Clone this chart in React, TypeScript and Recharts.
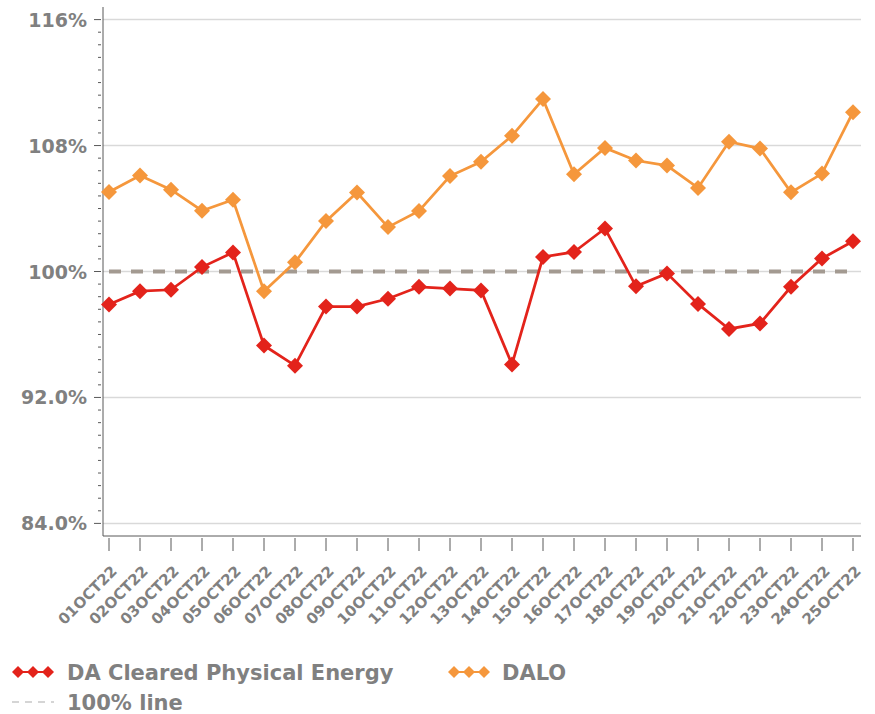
import { CartesianGrid, Line, LineChart, ReferenceLine, XAxis, YAxis } from 'recharts'

// Oct 2022 daily ratios (%)
const DAYS = [
  '01OCT22', '02OCT22', '03OCT22', '04OCT22', '05OCT22', '06OCT22', '07OCT22', '08OCT22', '09OCT22',
  '10OCT22', '11OCT22', '12OCT22', '13OCT22', '14OCT22', '15OCT22', '16OCT22', '17OCT22', '18OCT22',
  '19OCT22', '20OCT22', '21OCT22', '22OCT22', '23OCT22', '24OCT22', '25OCT22',
]
const DA_CLEARED = [
  97.9, 98.75, 98.84, 100.28, 101.21, 95.3, 94.02, 97.77, 97.77, 98.27, 99.03, 98.92, 98.8,
  94.1, 100.92, 101.24, 102.73, 99.06, 99.88, 97.94, 96.35, 96.7, 99.03, 100.83, 101.92,
]
const DALO = [
  105.05, 106.1, 105.2, 103.86, 104.56, 98.75, 100.58, 103.2, 105.02, 102.82, 103.85, 106.06, 106.97,
  108.62, 110.95, 106.18, 107.85, 107.05, 106.73, 105.31, 108.24, 107.81, 105.03, 106.22, 110.12,
]
const LINE_100 = [
  100, 100, 100, 100, 100, 100, 100, 100, 100, 100, 100, 100, 100,
  100, 100, 100, 100, 100, 100, 100, 100, 100, 100, 100, 100,
]
const Y_MAJOR = [84, 92, 100, 108, 116]
const Y_LABELS = ['84.0%', '92.0%', '100%', '108%', '116%']

const RED = '#e3231b'
const ORANGE = '#f5973c'
const DASH = '#a39a91'
const TEXT = '#808080'
const FONT = '"DejaVu Sans", Verdana, sans-serif'

const data = DAYS.map((day, i) => ({ day, da: DA_CLEARED[i], dalo: DALO[i], ref: LINE_100[i] }))

// minor ticks every 0.8 between the majors (10 per gridline step)
const yTicks: number[] = []
for (let i = 0; i <= 40; i++) yTicks.push(Math.round((84 + i * 0.8) * 10) / 10)

function Diamond({ cx, cy, fill, r = 8 }: { cx?: number; cy?: number; fill: string; r?: number }) {
  if (cx == null || cy == null) return null
  return <polygon points={`${cx},${cy - r} ${cx + r},${cy} ${cx},${cy + r} ${cx - r},${cy}`} fill={fill} />
}

function YTick({ x, y, payload }: any) {
  const idx = Y_MAJOR.indexOf(payload.value)
  if (idx < 0) return <line x1={x - 3} x2={x} y1={y} y2={y} stroke="#595959" />
  return (
    <g>
      <line x1={x - 7} x2={x} y1={y} y2={y} stroke="#595959" />
      <text x={x - 14} y={y} dy={7} textAnchor="end" fontFamily={FONT} fontWeight="bold" fontSize={19} fill={TEXT}>
        {Y_LABELS[idx]}
      </text>
    </g>
  )
}

function XTick({ x, y, payload }: any) {
  const ax = x + 9
  const ay = y + 34
  return (
    <g>
      <line x1={x} x2={x} y1={y} y2={y + 13} stroke="#595959" />
      <text
        x={ax}
        y={ay}
        textAnchor="end"
        transform={`rotate(-45 ${ax} ${ay})`}
        fontFamily={FONT}
        fontWeight="bold"
        fontSize={15}
        fill={TEXT}
      >
        {payload.value}
      </text>
    </g>
  )
}

function LegendDiamonds({ x, color }: { x: number; color: string }) {
  return (
    <g>
      <line x1={x} x2={x + 30} y1={672} y2={672} stroke={color} strokeWidth={2} />
      {[0, 15, 30].map((d) => (
        <Diamond key={d} cx={x + d} cy={672} fill={color} r={6} />
      ))}
    </g>
  )
}

export default function App() {
  return (
    <div style={{ position: 'absolute', left: 0, top: 0, width: 875, height: 714, background: '#fff' }}>
      <LineChart width={875} height={714} data={data} margin={{ top: 7, right: 14, left: 0, bottom: 0 }}>
        <CartesianGrid horizontal={false} vertical={false} />
        <XAxis
          dataKey="day"
          height={178}
          interval={0}
          padding={{ left: 6, right: 8 }}
          tickSize={0}
          tickLine={false}
          axisLine={{ stroke: '#595959' }}
          tick={<XTick />}
        />
        <XAxis xAxisId="top" dataKey="day" orientation="top" height={0} tick={false} tickLine={false} axisLine={{ stroke: '#8c8c8c' }} />
        <YAxis
          type="number"
          domain={[83.2, 116.8]}
          ticks={yTicks}
          interval={0}
          width={103}
          tickSize={0}
          tickLine={false}
          axisLine={{ stroke: '#595959' }}
          tick={<YTick />}
        />
        <YAxis yAxisId="right" orientation="right" width={0} domain={[83.2, 116.8]} tick={false} tickLine={false} axisLine={{ stroke: '#8c8c8c' }} />
        {Y_MAJOR.map((v) => (
          <ReferenceLine key={v} y={v} stroke="#d9d9d9" strokeWidth={1.5} />
        ))}
        <Line
          dataKey="ref"
          name="100% line"
          stroke={DASH}
          strokeWidth={4}
          strokeDasharray="12 10"
          dot={false}
          isAnimationActive={false}
        />
        <Line
          dataKey="da"
          name="DA Cleared Physical Energy"
          stroke={RED}
          strokeWidth={2.75}
          dot={(p: any) => <Diamond key={p.index} cx={p.cx} cy={p.cy} fill={RED} />}
          isAnimationActive={false}
        />
        <Line
          dataKey="dalo"
          name="DALO"
          stroke={ORANGE}
          strokeWidth={2.75}
          dot={(p: any) => <Diamond key={p.index} cx={p.cx} cy={p.cy} fill={ORANGE} />}
          isAnimationActive={false}
        />
      </LineChart>
      <svg width={875} height={714} style={{ position: 'absolute', left: 0, top: 0, pointerEvents: 'none' }}>
        <LegendDiamonds x={18} color={RED} />
        <text x={67} y={680} fontFamily={FONT} fontWeight="bold" fontSize={21} fill={TEXT}>
          DA Cleared Physical Energy
        </text>
        <LegendDiamonds x={454} color={ORANGE} />
        <text x={502} y={680} fontFamily={FONT} fontWeight="bold" fontSize={21} fill={TEXT}>
          DALO
        </text>
        <line x1={12} x2={54} y1={702} y2={702} stroke="#c8c8c8" strokeWidth={1.5} strokeDasharray="7 6" />
        <text x={67} y={710} fontFamily={FONT} fontWeight="bold" fontSize={21} fill={TEXT}>
          100% line
        </text>
      </svg>
    </div>
  )
}
